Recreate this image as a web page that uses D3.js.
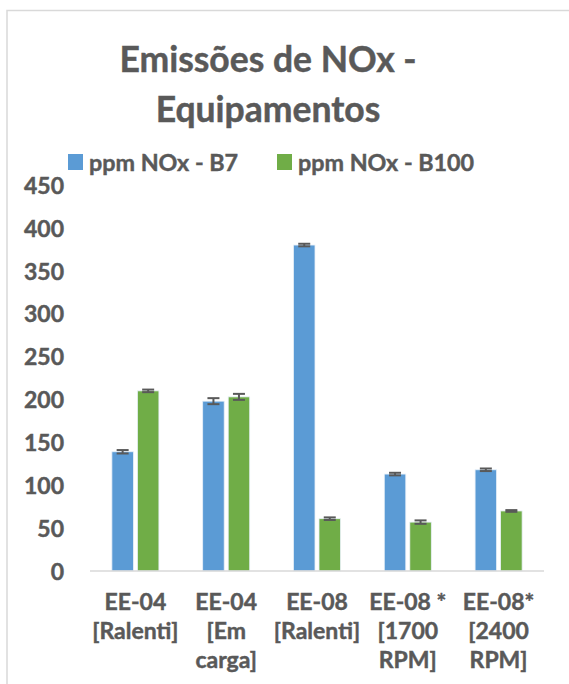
<!DOCTYPE html>
<html><head><meta charset="utf-8">
<script src="https://cdn.jsdelivr.net/npm/d3@7"></script>
<style>html,body{margin:0;padding:0;background:#fff;}svg{display:block;}</style>
</head><body>
<script>
const categories = [["EE-04","[Ralenti]"],["EE-04","[Em","carga]"],["EE-08","[Ralenti]"],["EE-08 *","[1700","RPM]"],["EE-08*","[2400","RPM]"]];
const seriesNames = ["ppm NOx - B7","ppm NOx - B100"];
const b7Values = [139, 198, 380, 113, 118];
const b7Errors = [2, 3.5, 1.5, 1.5, 1.5];
const b100Values = [210, 203, 61, 57, 70];
const b100Errors = [1.5, 3.5, 1.5, 2, 1];
const yTicks = [0,50,100,150,200,250,300,350,400,450];
const colors = ["#5B9BD5","#70AD47"];
const titleLines = ["Emissões de NOx -","Equipamentos"];

const W=569,H=684;
const FONT="Lato, 'Open Sans', sans-serif";
const TXT="#595959";
const svg=d3.select("body").append("svg").attr("width",W).attr("height",H);
svg.append("rect").attr("x",7).attr("y",10.5).attr("width",W+20).attr("height",H+20)
  .attr("fill","#fff").attr("stroke","#d9d9d9").attr("stroke-width",1.5);

const catIdx = categories.map((c,i)=>i);
const x = d3.scaleBand().domain(catIdx).range([90,544]).paddingInner(0.482).paddingOuter(0.241);
const xs = d3.scaleBand().domain([0,1]).range([0,x.bandwidth()]).paddingInner(0.157);
const y = d3.scaleLinear().domain([0,450]).range([571,185]);

function boldText(sel,size){
  sel.attr("font-family",FONT).attr("font-weight","bold").attr("font-size",size)
    .attr("fill",TXT).attr("stroke",TXT).attr("stroke-width",0.45).attr("paint-order","stroke");
}

// title
svg.append("g").selectAll("text").data(titleLines).join("text")
  .attr("x",268).attr("y",(d,i)=>72+i*50).attr("text-anchor","middle")
  .call(boldText,35.5).text(d=>d);

// legend
const legX=[68,277];
const leg=svg.append("g").selectAll("g").data(seriesNames).join("g")
  .attr("transform",(d,i)=>`translate(${legX[i]},0)`);
leg.append("rect").attr("x",0).attr("y",154).attr("width",15).attr("height",16).attr("fill",(d,i)=>colors[i]);
leg.append("text").attr("x",21).attr("y",170.5).call(boldText,23.3).text(d=>d);

// y axis
const yAxis = d3.axisLeft(y).tickValues(yTicks).tickSize(0).tickPadding(0);
const ya=svg.append("g").attr("transform","translate(64,0)").call(yAxis);
ya.select(".domain").remove();
ya.selectAll("text").call(boldText,23).attr("dy","0.36em");

// bars
const data = catIdx.map(i=>[
  {s:0,c:i,v:b7Values[i],e:b7Errors[i]},
  {s:1,c:i,v:b100Values[i],e:b100Errors[i]}
]).flat();
const g=svg.append("g");
g.selectAll("rect").data(data).join("rect")
  .attr("x",d=>x(d.c)+xs(d.s)).attr("width",xs.bandwidth())
  .attr("y",d=>y(d.v)).attr("height",d=>y(0)-y(d.v))
  .attr("fill",d=>colors[d.s]).attr("stroke","#e8f0f8").attr("stroke-width",0.8);

// baseline
svg.append("line").attr("x1",90).attr("x2",544).attr("y1",y(0)).attr("y2",y(0))
  .attr("stroke","#d9d9d9").attr("stroke-width",1.5);

// error bars
const eb=svg.append("g").attr("stroke","#595959").attr("stroke-width",2);
const cx=d=>x(d.c)+xs(d.s)+xs.bandwidth()/2;
eb.selectAll("line.v").data(data).join("line").attr("class","v")
  .attr("x1",cx).attr("x2",cx).attr("y1",d=>y(d.v+d.e)).attr("y2",d=>y(d.v-d.e));
eb.selectAll("line.t").data(data).join("line").attr("class","t")
  .attr("x1",d=>cx(d)-6).attr("x2",d=>cx(d)+6).attr("y1",d=>y(d.v+d.e)).attr("y2",d=>y(d.v+d.e));
eb.selectAll("line.b").data(data).join("line").attr("class","b")
  .attr("x1",d=>cx(d)-6).attr("x2",d=>cx(d)+6).attr("y1",d=>y(d.v-d.e)).attr("y2",d=>y(d.v-d.e));

// x labels
const xl=svg.append("g").selectAll("text").data(categories).join("text")
  .attr("x",(d,i)=>x(i)+x.bandwidth()/2).attr("y",610).attr("text-anchor","middle")
  .call(boldText,23);
xl.selectAll("tspan").data(d=>d).join("tspan")
  .attr("x",function(){return this.parentNode.getAttribute("x");})
  .attr("dy",(d,i)=>i===0?0:29).text(d=>d);
</script>
</body></html>
